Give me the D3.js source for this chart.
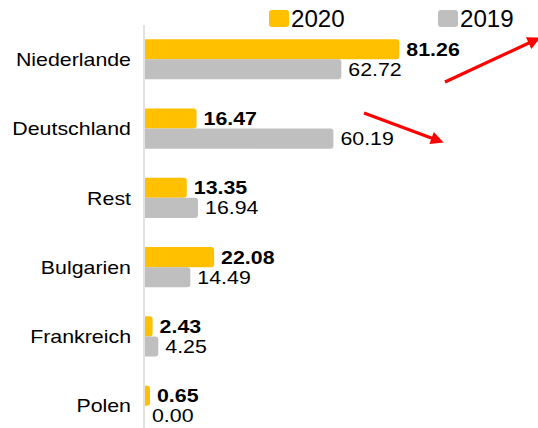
<!DOCTYPE html>
<html>
<head>
<meta charset="utf-8">
<script src="https://cdn.jsdelivr.net/npm/d3@7"></script>
<style>
  body { margin: 0; background: #fff; }
  svg { display: block; font-family: "Liberation Sans", Arial, sans-serif; }
</style>
</head>
<body>
<script>
var categories = ["Niederlande", "Deutschland", "Rest", "Bulgarien", "Frankreich", "Polen"];
var seriesNames = ["2020", "2019"];
var values2020 = [81.26, 16.47, 13.35, 22.08, 2.43, 0.65];
var values2019 = [62.72, 60.19, 16.94, 14.49, 4.25, 0.00];
var seriesColors = ["#FFC000", "#BFBFBF"];

var chartWidth = 538, chartHeight = 428;
var axisX = 144;
var textStretch = 1.22;

var svg = d3.select("body").append("svg")
    .attr("width", chartWidth)
    .attr("height", chartHeight);

var x = d3.scaleLinear().domain([0, 100]).range([145, 458]);

var y = d3.scaleBand()
    .domain(categories)
    .range([24.6, 440.4])
    .paddingInner(0.42)
    .paddingOuter(0.21);

var ySub = d3.scaleBand()
    .domain(seriesNames)
    .range([0, y.bandwidth()]);

var rows = categories.map(function(c, i) {
    return { cat: c, vals: [
        { s: "2020", v: values2020[i], color: seriesColors[0], bold: true },
        { s: "2019", v: values2019[i], color: seriesColors[1], bold: false }
    ] };
});

// bar with rounded right end only
function barPath(x0, x1, y0, h) {
    var w = x1 - x0;
    if (w <= 0) return "";
    var r = Math.min(3, w, h / 2);
    return "M" + x0 + "," + y0 +
        "H" + (x1 - r) +
        "Q" + x1 + "," + y0 + " " + x1 + "," + (y0 + r) +
        "V" + (y0 + h - r) +
        "Q" + x1 + "," + (y0 + h) + " " + (x1 - r) + "," + (y0 + h) +
        "H" + x0 + "Z";
}

function barEnd(d) {
    return d.v > 0 ? Math.max(x(d.v), x(0) + 5) : x(0);
}

var groups = svg.selectAll("g.row")
    .data(rows)
    .enter().append("g")
    .attr("class", "row")
    .attr("transform", function(d) { return "translate(0," + y(d.cat) + ")"; });

groups.selectAll("path.bar")
    .data(function(d) { return d.vals; })
    .enter().append("path")
    .attr("class", "bar")
    .attr("fill", function(d) { return d.color; })
    .attr("d", function(d) {
        return barPath(x(0), barEnd(d), ySub(d.s), ySub.bandwidth());
    });

groups.selectAll("text.val")
    .data(function(d) { return d.vals; })
    .enter().append("text")
    .attr("class", "val")
    .attr("transform", function(d) {
        return "translate(" + (barEnd(d) + 7) + "," + (ySub(d.s) + ySub.bandwidth() / 2) + ") scale(" + textStretch + ",1)";
    })
    .attr("dy", "0.37em")
    .attr("font-size", "17.5px")
    .attr("font-weight", function(d) { return d.bold ? "bold" : "normal"; })
    .attr("fill", "#000")
    .text(function(d) { return d.v.toFixed(2); });

// category labels
svg.selectAll("text.cat")
    .data(categories)
    .enter().append("text")
    .attr("class", "cat")
    .attr("transform", function(d) {
        return "translate(131," + (y(d) + y.bandwidth() / 2) + ") scale(" + textStretch + ",1)";
    })
    .attr("dy", "0.38em")
    .attr("text-anchor", "end")
    .attr("font-size", "17.5px")
    .attr("fill", "#000")
    .text(function(d) { return d; });

// axis line
svg.append("line")
    .attr("x1", axisX).attr("x2", axisX)
    .attr("y1", 25).attr("y2", chartHeight)
    .attr("stroke", "#D9D9D9")
    .attr("stroke-width", 1.5);

// legend
var legendX = [269, 438];
var legend = svg.selectAll("g.legend")
    .data(seriesNames)
    .enter().append("g")
    .attr("class", "legend")
    .attr("transform", function(d, i) { return "translate(" + legendX[i] + ",10)"; });

legend.append("rect")
    .attr("width", 20).attr("height", 17)
    .attr("rx", 3)
    .attr("fill", function(d, i) { return seriesColors[i]; });

legend.append("text")
    .attr("transform", "translate(22,16.5) scale(1.05,1)")
    .attr("font-size", "23px")
    .attr("fill", "#000")
    .text(function(d) { return d; });

// red trend arrows
var defs = svg.append("defs");
defs.append("marker")
    .attr("id", "head")
    .attr("viewBox", "0 0 10 10")
    .attr("refX", 2).attr("refY", 5)
    .attr("markerWidth", 4.5).attr("markerHeight", 4)
    .attr("orient", "auto")
    .attr("markerUnits", "strokeWidth")
    .append("path")
    .attr("d", "M0,0L10,5L0,10Z")
    .attr("fill", "#FF0000");

var arrows = [
    { x1: 445, y1: 82, x2: 531, y2: 42 },
    { x1: 364, y1: 113, x2: 434, y2: 139 }
];

svg.selectAll("line.arrow")
    .data(arrows)
    .enter().append("line")
    .attr("class", "arrow")
    .attr("x1", function(d) { return d.x1; })
    .attr("y1", function(d) { return d.y1; })
    .attr("x2", function(d) { return d.x2; })
    .attr("y2", function(d) { return d.y2; })
    .attr("stroke", "#FF0000")
    .attr("stroke-width", 3.2)
    .attr("marker-end", "url(#head)");
</script>
</body>
</html>
